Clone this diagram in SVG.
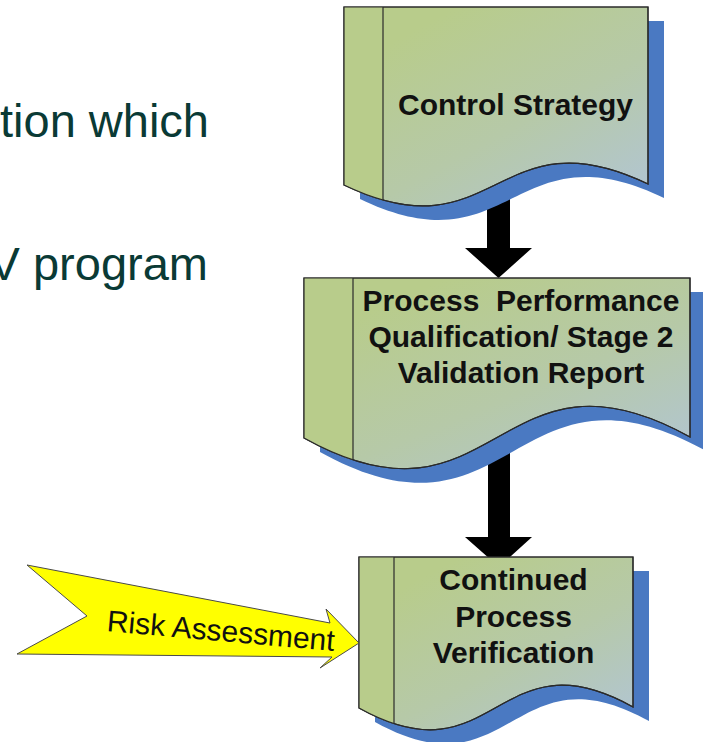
<svg xmlns="http://www.w3.org/2000/svg" width="703" height="742" viewBox="0 0 703 742">
  <style>
    .body { font-family: "Liberation Sans", Arial, sans-serif; font-size: 47px; fill: #0a3a35; }
    .lbl { font-family: "Liberation Sans", Arial, sans-serif; font-size: 30px; font-weight: bold; fill: #111; text-anchor: middle; }
    .risk { font-family: "Liberation Sans", Arial, sans-serif; font-size: 30px; fill: #111; text-anchor: middle; }
    .shadow { fill: #4a79c2; }
    .doc { fill: url(#g); stroke: #2a2a2a; stroke-width: 1.2; }
    .strip { fill: #b8cc8b; }
    .inner { stroke: #2a2a2a; stroke-width: 1.2; }
    .conn { fill: #000; }
  </style>
  <defs>
    <linearGradient id="g" x1="0.25" y1="0.1" x2="1" y2="1">
      <stop offset="0" stop-color="#b8cc8b"/>
      <stop offset="0.5" stop-color="#b6c9a8"/>
      <stop offset="1" stop-color="#b1c5d6"/>
    </linearGradient>
    <clipPath id="c1"><path d="M344,7 H648 V184 C496,111 496,258 344,185 Z"/></clipPath>
    <clipPath id="c2"><path d="M304,278 H690 V437 C497,330 497,545 304,438 Z"/></clipPath>
    <clipPath id="c3"><path d="M359,557 H633 V707 C496,631 496,784 359,708 Z"/></clipPath>
  </defs>

  <rect width="703" height="742" fill="#fff"/>

  <text class="body" x="209" y="137" text-anchor="end">tion which</text>
  <text class="body" x="208" y="280" text-anchor="end">V program</text>

  <g id="connectors">
    <path class="conn" d="M487,195 H510 V248 H532 L498.5,278 L465,248 H487 Z"/>
    <path class="conn" d="M488,450 H510 V537 H532 L499,567 L465,537 H488 Z"/>
  </g>

  <g id="control-strategy">
    <path class="shadow" transform="translate(16,14)" d="M344,7 H648 V184 C496,111 496,258 344,185 Z"/>
    <path class="doc" d="M344,7 H648 V184 C496,111 496,258 344,185 Z"/>
    <g clip-path="url(#c1)">
      <rect class="strip" x="344" y="7" width="39" height="220"/>
      <line class="inner" x1="383" y1="7" x2="383" y2="230"/>
    </g>
    <path d="M344,7 H648 V184 C496,111 496,258 344,185 Z" fill="none" stroke="#2a2a2a" stroke-width="1.2"/>
    <text class="lbl" x="515.5" y="115">Control Strategy</text>
  </g>

  <g id="ppq-report">
    <path class="shadow" transform="translate(16,14)" d="M304,278 H690 V437 C497,330 497,545 304,438 Z"/>
    <path class="doc" d="M304,278 H690 V437 C497,330 497,545 304,438 Z"/>
    <g clip-path="url(#c2)">
      <rect class="strip" x="304" y="278" width="49" height="220"/>
      <line class="inner" x1="353" y1="278" x2="353" y2="500"/>
    </g>
    <path d="M304,278 H690 V437 C497,330 497,545 304,438 Z" fill="none" stroke="#2a2a2a" stroke-width="1.2"/>
    <text class="lbl" x="521" y="311" xml:space="preserve">Process  Performance</text>
    <text class="lbl" x="521" y="347">Qualification/ Stage 2</text>
    <text class="lbl" x="521" y="383">Validation Report</text>
  </g>

  <g id="cpv">
    <path class="shadow" transform="translate(16,14)" d="M359,557 H633 V707 C496,631 496,784 359,708 Z"/>
    <path class="doc" d="M359,557 H633 V707 C496,631 496,784 359,708 Z"/>
    <g clip-path="url(#c3)">
      <rect class="strip" x="359" y="557" width="35" height="200"/>
      <line class="inner" x1="394" y1="557" x2="394" y2="760"/>
    </g>
    <path d="M359,557 H633 V707 C496,631 496,784 359,708 Z" fill="none" stroke="#2a2a2a" stroke-width="1.2"/>
    <text class="lbl" x="513.5" y="590">Continued</text>
    <text class="lbl" x="513.5" y="627">Process</text>
    <text class="lbl" x="513.5" y="663">Verification</text>
  </g>

  <g id="risk-assessment">
    <path d="M27,565 L330,623 L326,609 L359,643 L320,668 L332,657 L17,654 L87,616 Z" fill="#ffff00" stroke="#4a4a4a" stroke-width="1"/>
    <text class="risk" x="220" y="641" transform="rotate(5 220 641)">Risk Assessment</text>
  </g>
</svg>
